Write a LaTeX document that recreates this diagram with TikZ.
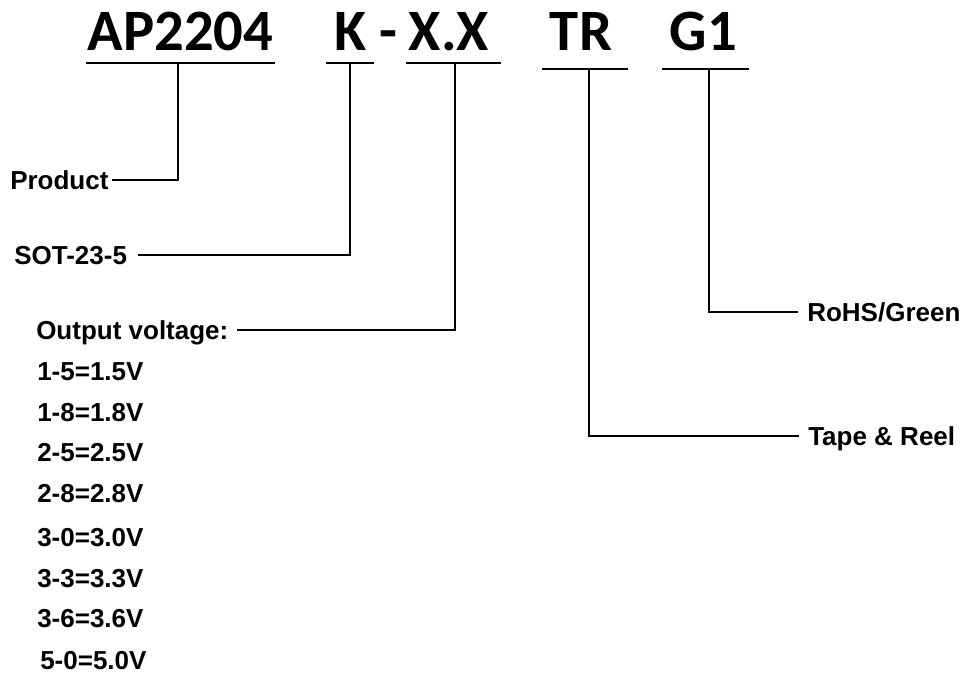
\documentclass[tikz,border=0pt]{standalone}
\usepackage{fontspec}
\setmainfont{Liberation Sans}
\newfontfamily\topfont{Carlito}
\begin{document}
\begin{tikzpicture}[x=0.75pt,y=-0.75pt,
  part/.style={font=\topfont\bfseries\fontsize{44}{44}\selectfont, inner sep=0pt, anchor=base},
  lab/.style={font=\bfseries\fontsize{19.5}{20}\selectfont, inner sep=0pt, anchor=west, text height=14pt, text depth=0pt},
  wire/.style={line width=1.9pt, line cap=rect, line join=miter}]
\useasboundingbox (0,0) rectangle (968,675);
% part-number fields
\node[part] (ap) at (180.5,50) {AP2204};
\node[part] (k) at (351,50) {K};
\node[part] (dash) at (388.5,50) {-};
\node[part] (xx) at (449,50) {X.X};
\node[part] (tr) at (581,50) {TR};
\node[part] (g) at (703.5,50) {G1};
% underline coordinates
\coordinate (apL) at (87,63);  \coordinate (apR) at (274,63);  \coordinate (apM) at (178,63);
\coordinate (kL) at (327,63);  \coordinate (kR) at (373,63);   \coordinate (kM) at (350,63);
\coordinate (xL) at (407,63);  \coordinate (xR) at (500,63);   \coordinate (xM) at (455,63);
\coordinate (tL) at (543,69);  \coordinate (tR) at (627,69);   \coordinate (tM) at (589,69);
\coordinate (gL) at (663,69);  \coordinate (gR) at (748,69);   \coordinate (gM) at (709,69);
% labels
\node[lab] (prod) at (10,180) {Product};
\node[lab] (sot) at (14,255) {SOT-23-5};
\node[lab] (out) at (36,330) {Output voltage:};
\node[lab] (v1) at (37,371) {1-5=1.5V};
\node[lab] (v2) at (37,412) {1-8=1.8V};
\node[lab] (v3) at (37,452) {2-5=2.5V};
\node[lab] (v4) at (37,493) {2-8=2.8V};
\node[lab] (v5) at (37,537) {3-0=3.0V};
\node[lab] (v6) at (37,578) {3-3=3.3V};
\node[lab] (v7) at (37,618) {3-6=3.6V};
\node[lab] (v8) at (40,660) {5-0=5.0V};
\node[lab] (rohs) at (807,312) {RoHS/Green};
\node[lab] (tape) at (808,436) {Tape \& Reel};
% underlines
\draw[wire] (apL) -- (apR);
\draw[wire] (kL) -- (kR);
\draw[wire] (xL) -- (xR);
\draw[wire] (tL) -- (tR);
\draw[wire] (gL) -- (gR);
% connectors
\draw[wire] ([xshift=3.75pt]prod.east) -| (apM);
\draw[wire] ([xshift=9pt]sot.east) -| (kM);
\draw[wire] ([xshift=7.5pt]out.east) -| (xM);
\draw[wire] ([xshift=-7.5pt]rohs.west) -| (gM);
\draw[wire] ([xshift=-7.5pt]tape.west) -| (tM);
\end{tikzpicture}
\end{document}
